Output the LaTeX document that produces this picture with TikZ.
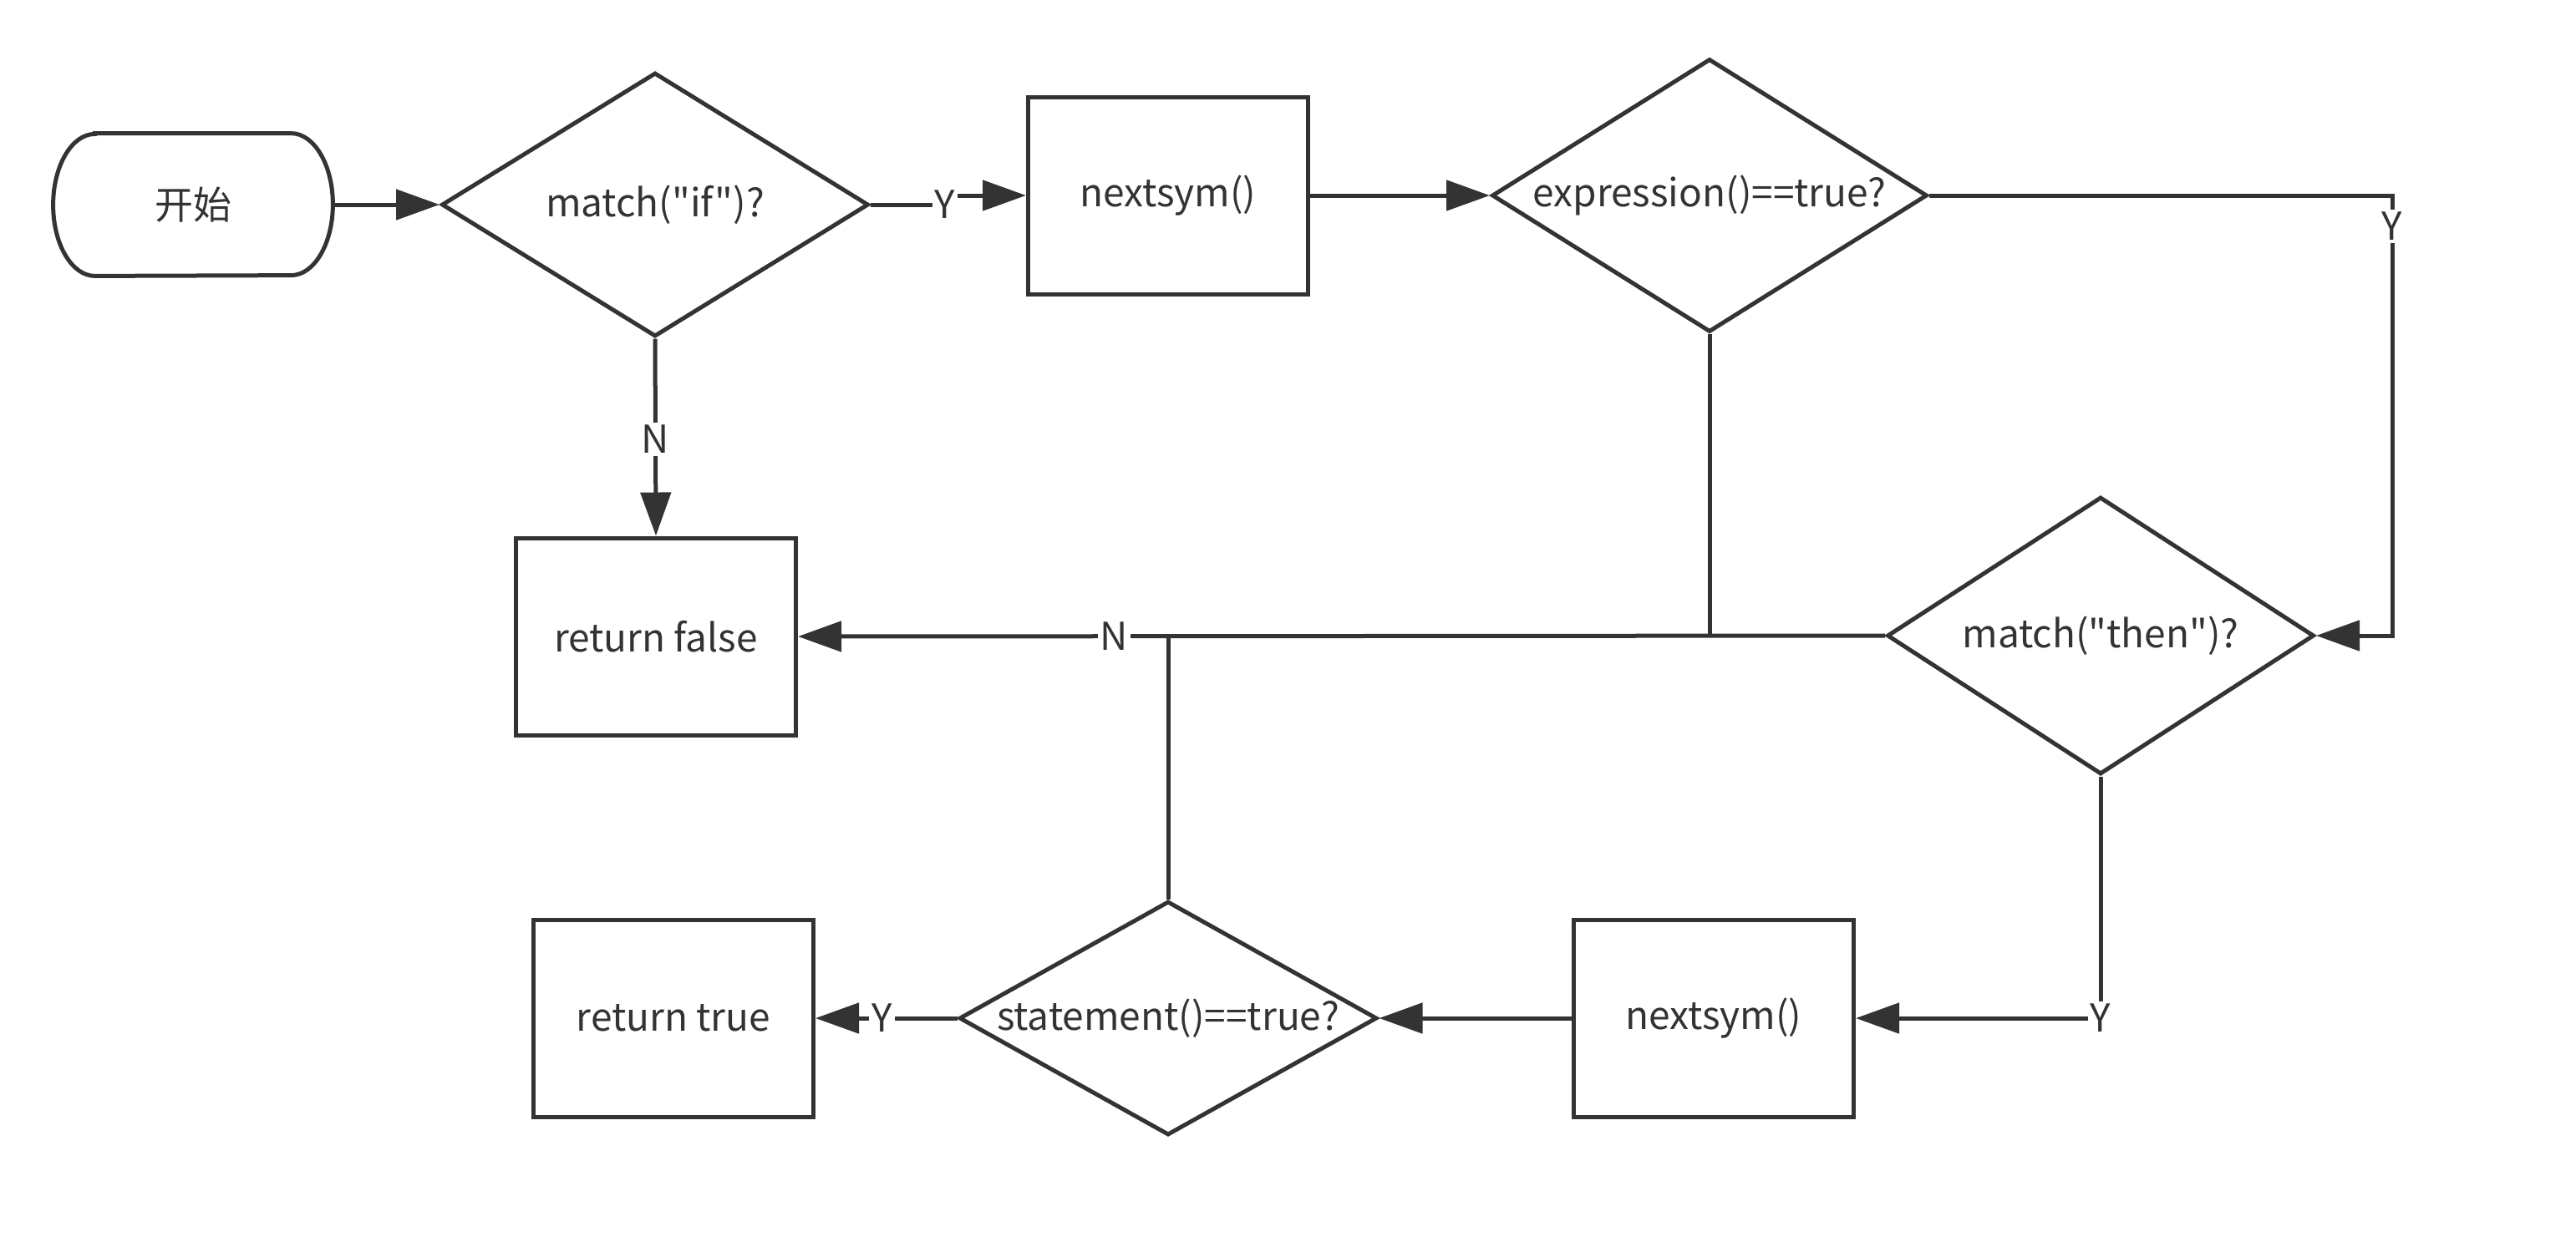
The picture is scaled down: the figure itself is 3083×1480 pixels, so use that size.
\documentclass[tikz,border=0pt]{standalone}
\usepackage{fontspec}
\setmainfont{Noto Sans CJK SC}[Ligatures=TeXOff]
\usetikzlibrary{shapes.geometric,arrows.meta}
\definecolor{ink}{HTML}{333333}
\begin{document}
\begin{tikzpicture}[x=0.5pt,y=-0.5pt,
  every node/.style={font=\fontsize{23}{27}\selectfont, text=ink},
  box/.style={draw=ink, line width=2.5pt, minimum width=167.5pt, minimum height=118pt, inner sep=0pt},
  dec/.style={draw=ink, line width=2.5pt, shape=diamond, inner sep=0pt, aspect=1.6},
  conn/.style={draw=ink, line width=2.5pt, -{Triangle[length=26pt,width=18pt]}},
  plain/.style={draw=ink, line width=2.5pt},
  lab/.style={fill=white, inner sep=1.5pt}
]
\useasboundingbox (0,0) rectangle (3083,1480);

% start terminator
\node[minimum width=167pt, minimum height=85pt, inner sep=0pt] (start) at (231,245) {开始};
\draw[plain] ([xshift=25pt]start.north west) -- ([xshift=-25pt]start.north east)
  arc[start angle=90,end angle=-90,x radius=25pt,y radius=42.5pt]
  -- ([xshift=25pt]start.south west)
  arc[start angle=270,end angle=90,x radius=25pt,y radius=42.5pt] -- cycle;

% decisions
\node[dec, minimum width=255.5pt, minimum height=158pt] (d1) at (784,245) {\makebox[0pt]{match("if")?}};
\node[dec, minimum width=260.5pt, minimum height=163.5pt] (d2) at (2046,234) {\makebox[0pt]{expression()==true?}};
\node[dec, minimum width=255.5pt, minimum height=166pt] (d3) at (2514,761) {\makebox[0pt]{match("then")?}};
\node[dec, minimum width=250pt, minimum height=140pt] (ds) at (1398,1219) {\makebox[0pt]{statement()==true?}};

% process boxes
\node[box] (n1) at (1398,234) {nextsym()};
\node[box] (rf) at (785,762) {return false};
\node[box] (rt) at (806,1219) {return true};
\node[box] (n2) at (2051,1219) {nextsym()};

% connectors
\draw[conn] (start.east) -- (d1.west);
\draw[conn] (d1.east) -- node[lab, pos=1]{Y} ([xshift=44.5pt]d1.east) |- (n1.west);
\draw[conn] (n1.east) -- (d2.west);
\draw[conn] (d1.south) -- node[lab, pos=0.51]{N} (rf.north);
\draw[conn] (d2.east) -| node[lab, pos=0.535]{Y} ([xshift=45.5pt]d3.east) -- (d3.east);
\draw[plain] (d2.south) -- (d2.south |- d3.west);
\draw[plain] (ds.north) -- (ds.north |- d3.west);
\draw[conn] (d3.west) -- node[lab, pos=0.709]{N} (rf.east);
\draw[conn] (d3.south) |- node[lab, pos=0.5]{Y} (n2.east);
\draw[conn] (n2.west) -- (ds.east);
\draw[conn] (ds.west) -- node[lab, pos=0.53]{Y} (rt.east);
\end{tikzpicture}
\end{document}
